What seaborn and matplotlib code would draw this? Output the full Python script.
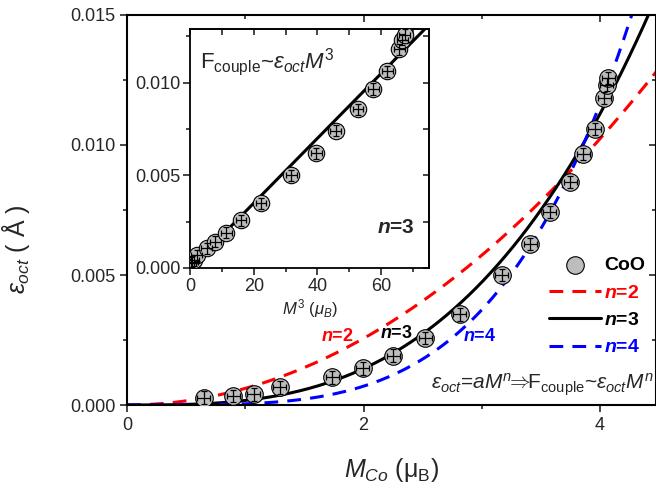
import numpy as np
import pandas as pd
import matplotlib
matplotlib.use("Agg")
import matplotlib.pyplot as plt
import seaborn as sns

sns.set_theme(style="ticks")
plt.rcParams['font.family'] = ['Liberation Sans', 'DejaVu Sans']
plt.rcParams['mathtext.fontset'] = 'custom'
plt.rcParams['mathtext.rm'] = 'Liberation Sans'
plt.rcParams['mathtext.it'] = 'Liberation Sans:italic'
plt.rcParams['mathtext.bf'] = 'Liberation Sans:bold'
plt.rcParams['mathtext.bfit'] = 'Liberation Sans:italic:bold'

# CoO data: Co moment (mu_B) and octahedral distortion (A)
m_co = [0.65, 0.90, 1.07, 1.29, 1.735, 1.995, 2.25, 2.52, 2.815, 3.17,
        3.41, 3.575, 3.75, 3.86, 3.955, 4.035, 4.055, 4.07]
eps_oct = [0.00028, 0.00035, 0.00041, 0.00068, 0.00106, 0.00141, 0.00190,
           0.00257, 0.00349, 0.00501, 0.00620, 0.00742, 0.00857, 0.00966,
           0.01062, 0.01180, 0.01232, 0.01258]

# fits eps = a * M^n
fit_n = [2, 3, 4]
fit_a = [6.4e-4, 1.75e-4, 4.52e-5]
fit_color = ['red', 'black', 'blue']
fit_label = [r'$\mathbfit{n}$=2', r'$\mathbfit{n}$=3', r'$\mathbfit{n}$=4']

df = pd.DataFrame({'M': m_co, 'eps': eps_oct})
df['M3'] = df['M'] ** 3

fig = plt.figure(figsize=(6.56, 5.0), dpi=100)
ax = fig.add_axes([0.1936, 0.19, 0.8058, 0.78])

m_grid = np.linspace(0, 4.6, 300)
for n, a, c, lab in zip(fit_n, fit_a, fit_color, fit_label):
    ls = '-' if n == 3 else (0, (4.5, 3.0))
    sns.lineplot(x=m_grid, y=a * m_grid ** n, ax=ax, color=c, lw=2.2,
                 linestyle=ls, label=lab, zorder=2)

sns.scatterplot(data=df, x='M', y='eps', ax=ax, s=160, color='#bdbdbd',
                edgecolor='black', linewidth=0.8, zorder=3, label='CoO')
ax.errorbar(df['M'], df['eps'], xerr=0.055, yerr=0.00024, fmt='none',
            ecolor='black', elinewidth=0.9, capsize=2.5, capthick=0.9, zorder=4)

ax.set_xlim(0, 4.47)
ax.set_ylim(0, 0.015)
ax.set_xticks([0, 2, 4])
ax.set_xticks([1, 3], minor=True)
ax.set_yticks([0, 0.005, 0.010, 0.015])
ax.set_yticks([0.0025, 0.0075, 0.0125], minor=True)
ax.set_yticklabels(['0.000', '0.005', '0.010', '0.015'])
ax.tick_params(which='major', direction='out', length=5, width=1.2,
               labelsize=13, top=False, right=False)
ax.tick_params(which='minor', direction='out', length=3, width=1.2,
               top=False, right=False)
for s in ax.spines.values():
    s.set_linewidth(1.5)
    s.set_color('black')

secx = ax.secondary_xaxis('top')
secx.set_xticks([0, 2, 4])
secx.set_xticks([1, 3], minor=True)
secx.tick_params(which='both', direction='in', labeltop=False, width=1.2)
secx.tick_params(which='major', length=5)
secx.tick_params(which='minor', length=3)
secy = ax.secondary_yaxis('right')
secy.set_yticks([0, 0.005, 0.010, 0.015])
secy.set_yticks([0.0025, 0.0075, 0.0125], minor=True)
secy.tick_params(which='both', direction='in', labelright=False, width=1.2)
secy.tick_params(which='major', length=5)
secy.tick_params(which='minor', length=3)

ax.set_xlabel(r'$M_{Co}$ (μ$_{\rm B}$)', fontsize=18, labelpad=16)
ax.set_ylabel(r'$\varepsilon_{oct}$ ( Å )', fontsize=18)
ax.yaxis.set_label_coords(-0.18, 0.40)

# legend with CoO first
hs, ls_ = ax.get_legend_handles_labels()
idx = [3, 0, 1, 2]
leg = ax.legend([hs[i] for i in idx], [ls_[i] for i in idx],
                loc='upper left', bbox_to_anchor=(0.765, 0.425), frameon=False,
                handlelength=2.7, labelspacing=0.5, handletextpad=0.15,
                prop={'weight': 'bold', 'size': 14})
for t, c in zip(leg.get_texts(), ['black', 'red', 'black', 'blue']):
    t.set_color(c)

ax.text(1.78, 0.00262, r'$\mathbfit{n}$=2', color='red', fontsize=13,
        fontweight='bold', ha='center', va='center')
ax.text(2.28, 0.00275, r'$\mathbfit{n}$=3', color='black', fontsize=13,
        fontweight='bold', ha='center', va='center')
ax.text(2.98, 0.00262, r'$\mathbfit{n}$=4', color='blue', fontsize=13,
        fontweight='bold', ha='center', va='center')
ax.text(4.45, 0.00078,
        r'$\varepsilon_{oct}$=$aM^n\!\!\Rightarrow\!\!$F$_{\rm couple}$~$\varepsilon_{oct}M^n$',
        fontsize=15, ha='right', va='center')

# inset: eps vs M^3
ins = fig.add_axes([0.2896, 0.464, 0.3643, 0.478])
m3_grid = np.linspace(0, 80, 50)
sns.lineplot(x=m3_grid, y=fit_a[1] * m3_grid, ax=ins, color='black', lw=2.2,
             zorder=2)
sns.scatterplot(data=df, x='M3', y='eps', ax=ins, s=140, color='#bdbdbd',
                edgecolor='black', linewidth=0.8, zorder=3, legend=False)
ins.errorbar(df['M3'], df['eps'], xerr=1.7, yerr=0.0003, fmt='none',
             ecolor='black', elinewidth=0.9, capsize=2.5, capthick=0.9, zorder=4)
ins.set_xlim(0, 75)
ins.set_ylim(0, 0.0129)
ins.set_xticks([0, 20, 40, 60])
ins.set_xticks([10, 30, 50, 70], minor=True)
ins.set_yticks([0, 0.005, 0.010])
ins.set_yticks([0.0025, 0.0075, 0.0125], minor=True)
ins.set_yticklabels(['0.000', '0.005', '0.010'])
ins.tick_params(which='major', direction='out', length=5, width=1.2,
                labelsize=13, pad=2)
ins.tick_params(which='minor', direction='out', length=3, width=1.2)
for s in ins.spines.values():
    s.set_linewidth(1.3)
    s.set_color('black')
isx = ins.secondary_xaxis('top')
isx.set_xticks([0, 20, 40, 60])
isx.set_xticks([10, 30, 50, 70], minor=True)
isx.tick_params(which='both', direction='in', labeltop=False, width=1.2, length=4)
isy = ins.secondary_yaxis('right')
isy.set_yticks([0, 0.005, 0.010])
isy.set_yticks([0.0025, 0.0075, 0.0125], minor=True)
isy.tick_params(which='both', direction='in', labelright=False, width=1.2, length=4)
ins.set_xlabel(r'$M^3$ ($\mu_B$)', fontsize=12, labelpad=2)
ins.set_ylabel('')
ins.text(0.04, 0.86, r'F$_{\rm couple}$~$\varepsilon_{oct}M^3$', fontsize=16,
         transform=ins.transAxes, ha='left', va='center')
ins.text(0.86, 0.17, r'$\mathbfit{n}$=3', fontsize=15, fontweight='bold',
         transform=ins.transAxes, ha='center', va='center')

fig.savefig('out.png', dpi=100)
